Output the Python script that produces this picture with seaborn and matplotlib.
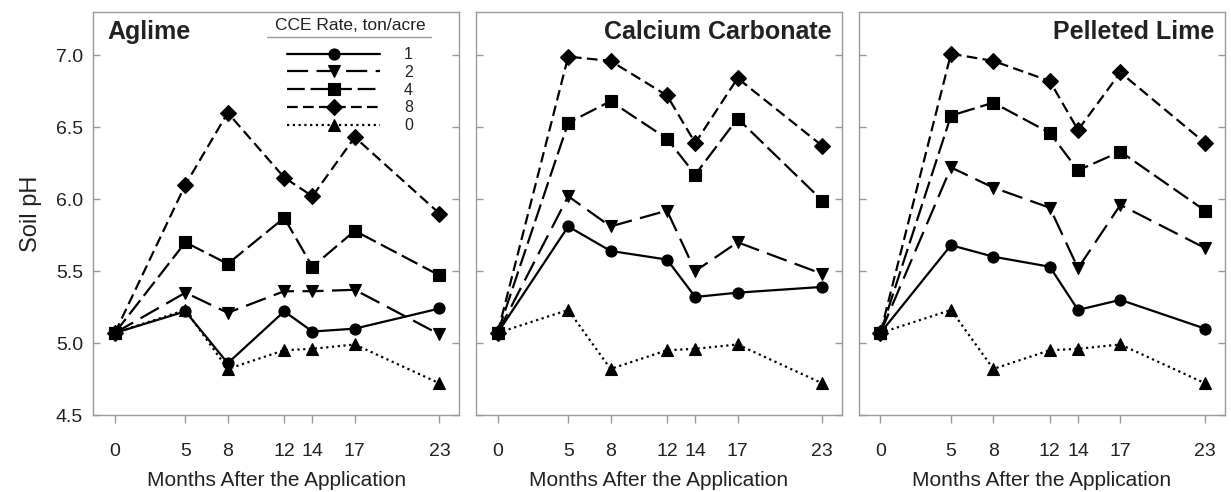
import pandas as pd
import matplotlib
matplotlib.use("Agg")
import matplotlib.pyplot as plt
import seaborn as sns

# === datos ===
months = [0, 5, 8, 12, 14, 17, 23]
rates = ["1", "2", "4", "8", "0"]
sources = ["Aglime", "Calcium Carbonate", "Pelleted Lime"]

control = [5.07, 5.23, 4.82, 4.95, 4.96, 4.99, 4.72]

aglime_1 = [5.07, 5.22, 4.86, 5.22, 5.08, 5.10, 5.24]
aglime_2 = [5.07, 5.35, 5.21, 5.36, 5.36, 5.37, 5.06]
aglime_4 = [5.07, 5.70, 5.55, 5.87, 5.53, 5.78, 5.47]
aglime_8 = [5.07, 6.10, 6.60, 6.15, 6.02, 6.43, 5.90]

caco3_1 = [5.07, 5.81, 5.64, 5.58, 5.32, 5.35, 5.39]
caco3_2 = [5.07, 6.02, 5.81, 5.92, 5.50, 5.70, 5.48]
caco3_4 = [5.07, 6.53, 6.68, 6.42, 6.17, 6.56, 5.99]
caco3_8 = [5.07, 6.99, 6.96, 6.72, 6.39, 6.84, 6.37]

pellet_1 = [5.07, 5.68, 5.60, 5.53, 5.23, 5.30, 5.10]
pellet_2 = [5.07, 6.22, 6.08, 5.94, 5.52, 5.96, 5.66]
pellet_4 = [5.07, 6.58, 6.67, 6.46, 6.20, 6.33, 5.92]
pellet_8 = [5.07, 7.01, 6.96, 6.82, 6.48, 6.88, 6.39]

series = {
    "Aglime": [aglime_1, aglime_2, aglime_4, aglime_8, control],
    "Calcium Carbonate": [caco3_1, caco3_2, caco3_4, caco3_8, control],
    "Pelleted Lime": [pellet_1, pellet_2, pellet_4, pellet_8, control],
}

rows = []
for src in sources:
    for rate, vals in zip(rates, series[src]):
        for m, v in zip(months, vals):
            rows.append({"source": src, "rate": rate, "month": m, "ph": v})
df = pd.DataFrame(rows)

# === estilos ===
markers = {"1": "o", "2": "v", "4": "s", "8": "D", "0": "^"}
dashes = {"1": "", "2": (9.5, 3.8), "4": (8, 2.6), "8": (4.8, 2.4), "0": (1, 1.6)}
gris = "#9a9a9a"
texto = "#222222"

sns.set_theme(style="white")
plt.rcParams["font.family"] = ["Liberation Sans", "DejaVu Sans"]
plt.rcParams["text.color"] = texto
plt.rcParams["axes.labelcolor"] = texto

fig, axes = plt.subplots(1, 3, figsize=(12.31, 4.92), dpi=100, sharey=True)
fig.subplots_adjust(left=0.0755, right=0.995, bottom=0.1565, top=0.9756, wspace=0.045)

for ax, src in zip(axes, sources):
    d = df[df["source"] == src]
    sns.lineplot(data=d, x="month", y="ph", style="rate", style_order=rates,
                 markers=markers, dashes=dashes, color="black", lw=1.6,
                 ms=8, mec="black", mew=0.8, ax=ax, legend=(src == "Aglime"))
    # el control queda debajo de las otras series
    ax.lines[4].set_zorder(1.5)

    ax.set_xlim(-1.55, 24.4)
    ax.set_ylim(4.5, 7.3)
    ax.set_xticks(months)
    ax.set_yticks([4.5, 5.0, 5.5, 6.0, 6.5, 7.0])
    ax.set_xlabel("Months After the Application", fontsize=15, labelpad=8)
    ax.set_ylabel("")
    for s in ax.spines.values():
        s.set_color(gris)
        s.set_linewidth(1.0)
    ax.tick_params(axis="x", direction="out", length=6, color=gris, width=1,
                   labelsize=14, labelcolor=texto, pad=14, bottom=True)
    ax.tick_params(axis="y", direction="in", length=5, color=gris, width=1,
                   left=True, right=True, labelsize=14, labelcolor=texto, pad=7)

    if src == "Aglime":
        ax.text(0.04, 0.95, src, transform=ax.transAxes, fontsize=18,
                fontweight="bold", ha="left", va="center")
    else:
        ax.text(0.972, 0.95, src, transform=ax.transAxes, fontsize=18,
                fontweight="bold", ha="right", va="center")

# === leyenda ===
ax0 = axes[0]
handles, labels = ax0.get_legend_handles_labels()
ax0.get_legend().remove()
leg = ax0.legend(handles, labels, title="CCE Rate, ton/acre", loc="upper right",
                 bbox_to_anchor=(0.934, 1.008), frameon=False, fontsize=11.5,
                 title_fontsize=12.5, handlelength=5.8, handletextpad=1.5,
                 labelspacing=0.17, borderaxespad=0.2)
leg._legend_box.sep = 10
for t in leg.get_texts():
    t.set_color(texto)
ax0.plot([0.474, 0.922], [0.938, 0.938], transform=ax0.transAxes,
         color=gris, lw=1)

axes[0].set_ylabel("Soil pH", fontsize=17, labelpad=10)

fig.savefig("out.png", dpi=100)
